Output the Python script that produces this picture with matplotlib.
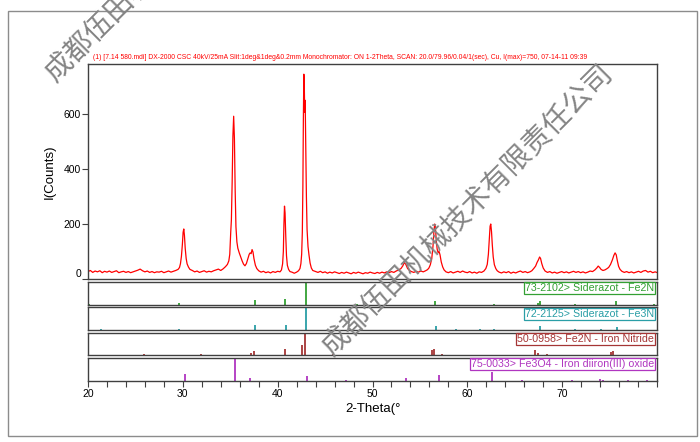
import matplotlib
matplotlib.use("Agg")
import matplotlib.pyplot as plt
from matplotlib.ticker import MultipleLocator, FixedLocator
from matplotlib.patches import Rectangle
import matplotlib.transforms as mtransforms

plt.rcParams["font.family"] = ["Liberation Sans", "DejaVu Sans"]

two_theta = [
    20.0, 20.25, 20.5, 20.75, 21.0, 21.25, 21.5, 21.75, 22.0, 22.25, 22.5, 22.75, 23.0,
    23.25, 23.5, 23.75, 24.0, 24.25, 24.5, 24.75, 25.0, 25.25, 25.5, 25.75, 26.0, 26.25,
    26.5, 26.75, 27.0, 27.25, 27.5, 27.75, 28.0, 28.25, 28.5, 28.75, 29.0, 29.25, 29.5,
    29.65, 29.75, 29.85, 29.95, 30.03, 30.1, 30.17, 30.25, 30.35, 30.45, 30.6, 30.75,
    31.0, 31.25, 31.5, 31.75, 32.0, 32.25, 32.5, 32.75, 33.0, 33.25, 33.5, 33.75, 34.0, 34.25,
    34.5, 34.7, 34.85, 34.95, 35.05, 35.12, 35.2, 35.28, 35.36, 35.44, 35.52, 35.6, 35.7,
    35.8, 35.95, 36.1, 36.25, 36.4, 36.55, 36.7, 36.85, 37.0, 37.1, 37.2, 37.3, 37.4, 37.5,
    37.65, 37.8, 38.0,
    38.25, 38.5, 38.75, 39.0, 39.25, 39.5, 39.75, 40.0, 40.25,
    40.4, 40.52, 40.6, 40.66, 40.72, 40.78, 40.85, 40.93, 41.02, 41.15, 41.3,
    41.5, 41.75, 42.0, 42.2,
    42.35, 42.45, 42.53, 42.6, 42.66, 42.71, 42.76, 42.81, 42.85, 42.9, 42.96, 43.03, 43.1,
    43.2, 43.3, 43.42, 43.55, 43.7,
    44.0, 44.25, 44.5, 44.75, 45.0, 45.25, 45.5, 45.75, 46.0, 46.25, 46.5, 46.75, 47.0,
    47.25, 47.5, 47.75, 48.0, 48.25, 48.5, 48.75, 49.0, 49.25, 49.5, 49.75, 50.0, 50.25,
    50.5, 50.75, 51.0, 51.25, 51.5, 51.75, 52.0, 52.25, 52.5, 52.75,
    53.0, 53.2, 53.35, 53.5, 53.7, 53.9,
    54.1, 54.35, 54.6, 54.85, 55.1, 55.35, 55.6, 55.8,
    55.95, 56.1, 56.25, 56.38, 56.48, 56.56, 56.64, 56.72, 56.82, 56.92, 57.02, 57.12,
    57.25, 57.4, 57.55,
    57.75, 58.0, 58.25, 58.5, 58.75, 59.0, 59.25, 59.5, 59.75, 60.0, 60.25, 60.5, 60.75,
    61.0, 61.25, 61.5, 61.75,
    61.95, 62.1, 62.22, 62.32, 62.4, 62.47, 62.55, 62.63, 62.73, 62.85, 63.0, 63.15,
    63.35, 63.6, 63.85, 64.1, 64.35, 64.6, 64.85, 65.1, 65.35, 65.6, 65.85, 66.1, 66.35, 66.6,
    66.8, 67.0, 67.2, 67.35, 67.5, 67.62, 67.72, 67.85, 68.0, 68.2,
    68.45, 68.7, 68.95, 69.2, 69.45, 69.7, 69.95, 70.2, 70.45, 70.7, 70.95, 71.2, 71.45,
    71.7, 71.95, 72.2, 72.45, 72.7, 72.95, 73.2, 73.45,
    73.65, 73.8, 73.95, 74.1, 74.3, 74.5, 74.7,
    74.9, 75.1, 75.3, 75.45, 75.58, 75.7, 75.82, 75.95, 76.1, 76.3,
    76.55, 76.8, 77.05, 77.3, 77.55, 77.8, 78.05, 78.3, 78.55, 78.8, 79.05, 79.3, 79.55,
    79.8, 79.96,
]
counts = [
    27, 31, 24, 29, 26, 30, 23, 28, 25, 29, 24, 27, 30,
    23, 26, 28, 24, 27, 23, 26, 29, 32, 36, 30, 26, 29,
    24, 27, 23, 26, 25, 28, 23, 26, 29, 25, 28, 31, 35,
    42, 56, 82, 125, 170, 182, 158, 112, 75, 55, 43, 35,
    31, 26, 29, 24, 27, 30, 25, 28, 26, 30, 33, 36, 31, 37,
    45, 53, 66, 90, 170, 215, 350, 520, 592, 510, 320, 190, 135,
    112, 95, 80, 66, 54, 48, 56, 73, 90, 95, 92, 107, 98, 74,
    50, 38, 30,
    25, 28, 23, 26, 22, 27, 24, 28, 26,
    33, 55, 100, 200, 265, 240, 160, 85, 50, 35, 27,
    25, 21, 25, 30,
    38, 56, 90, 170, 340, 580, 745, 700, 607, 650, 480, 300, 180,
    118, 88, 58, 40, 31,
    27, 24, 28, 23, 26, 21, 25, 22, 26, 23, 20, 24, 21,
    25, 22, 19, 24, 21, 25, 22, 19, 23, 21, 25, 22, 20,
    24, 21, 25, 22, 26, 23, 27, 24, 29, 33,
    38, 48, 60, 54, 38, 31,
    27, 24, 28, 25, 29, 26, 30, 34,
    40, 52, 75, 120, 175, 200, 185, 142, 108, 96, 100, 88,
    62, 44, 33,
    26, 23, 27, 22, 25, 28, 24, 29, 25, 23, 27, 22, 25,
    21, 26, 24, 29,
    38, 53, 90, 150, 192, 200, 172, 125, 80, 52, 38, 30,
    25, 22, 26, 23, 27, 21, 25, 22, 26, 29, 24, 27, 23, 26,
    30, 38, 47, 60, 70, 80, 75, 56, 40, 29,
    24, 27, 22, 25, 21, 24, 27, 23, 26, 22, 25, 28, 24,
    27, 23, 26, 22, 25, 29, 27, 33,
    40, 47, 42, 35, 31, 33, 37,
    42, 53, 70, 86, 95, 88, 66, 46, 35, 28,
    24, 27, 23, 26, 22, 25, 28, 24, 29, 31, 25, 28, 23,
    26, 24,
]

# ---- reference cards (stick positions, relative intensity %) ----
fe2n_a_pos = [20.1, 29.6, 37.6, 40.8, 42.95, 48.4, 56.6, 62.8, 67.4, 67.7, 71.4, 75.7, 79.7]
fe2n_a_int = [3, 8, 22, 25, 100, 5, 18, 4, 6, 18, 4, 18, 5]
fe3n_pos = [21.4, 29.6, 37.6, 40.9, 42.95, 56.7, 58.8, 61.3, 62.8, 67.65, 71.4, 74.1, 75.75]
fe3n_int = [4, 5, 25, 25, 100, 18, 4, 4, 4, 18, 4, 4, 16]
fe2n_b_pos = [25.9, 31.9, 37.2, 37.5, 40.8, 42.55, 42.85, 45.8, 53.85, 56.3, 56.45, 57.3,
              63.7, 65.3, 67.15, 67.45, 68.4, 71.4, 75.2, 75.4, 77.1, 78.5, 79.5]
fe2n_b_int = [5, 5, 12, 18, 30, 45, 100, 6, 4, 25, 30, 5,
              4, 3, 25, 12, 5, 3, 15, 20, 3, 3, 4]
fe3o4_pos = [30.2, 35.5, 37.1, 43.1, 47.2, 53.5, 57.0, 62.6, 65.75, 71.0, 74.0, 74.3, 76.95, 78.9]
fe3o4_int = [30, 100, 12, 22, 5, 10, 28, 38, 3, 4, 8, 4, 4, 3]

cards = [
    ("73-2102> Siderazot - Fe2N", fe2n_a_pos, fe2n_a_int, "#33a033"),
    ("72-2125> Siderazot - Fe3N", fe3n_pos, fe3n_int, "#2a9ea6"),
    ("50-0958> Fe2N - Iron Nitride", fe2n_b_pos, fe2n_b_int, "#a53535"),
    ("75-0033> Fe3O4 - Iron diiron(III) oxide", fe3o4_pos, fe3o4_int, "#b035c0"),
]

header = ("(1) [7.14 580.mdi] DX-2000 CSC 40kV/25mA Slit:1deg&1deg&0.2mm Monochromator: "
          "ON 1-2Theta, SCAN: 20.0/79.96/0.04/1(sec), Cu, I(max)=750, 07-14-11 09:39")
watermark = "成都伍田机械技术有限责任公司"

W, H = 700, 442
SPINE = "#404040"


def fx(px):
    return px / W


def fy(py):
    return 1 - py / H


fig = plt.figure(figsize=(7, 4.42), dpi=100)
fig.patch.set_facecolor("white")

# outer frame
fig.patches.append(Rectangle((fx(8), fy(436)), fx(689), (436 - 11) / H, transform=fig.transFigure,
                             fill=False, edgecolor="#8c8c8c", lw=1.0))

left, right = 88, 657
ax = fig.add_axes([fx(left), fy(279), fx(right - left), (279 - 64) / H])
ax.plot(two_theta, counts, color="#ff0000", lw=0.9)
ax.set_xlim(20, 80)
ax.set_ylim(0, 782)
ax.set_xticks([])
ax.yaxis.set_major_locator(FixedLocator([0, 200, 400, 600]))
ax.tick_params(axis="y", direction="out", length=4, width=0.8, color=SPINE, labelsize=7.5, pad=1)
ax.set_ylabel("I(Counts)", fontsize=9.5, labelpad=6)
for s in ax.spines.values():
    s.set_color(SPINE)
    s.set_linewidth(1.0)
lbl0 = ax.get_yticklabels()[0]
lbl0.set_transform(lbl0.get_transform() + mtransforms.ScaledTranslation(0, 6 / 100, fig.dpi_scale_trans))
ax.text(0.008, 1.012, header, transform=ax.transAxes, fontsize=4.85, color="#ff0000",
        ha="left", va="bottom")

tops = [282, 307.3, 332.6, 357.9]
ph = 22.8
for i, (name, pos, inten, col) in enumerate(cards):
    pax = fig.add_axes([fx(left), fy(tops[i] + ph), fx(right - left), ph / H])
    pax.vlines(pos, 0, inten, color=col, lw=1.3)
    pax.set_xlim(20, 80)
    pax.set_ylim(0, 103)
    pax.set_yticks([])
    for s in pax.spines.values():
        s.set_color(SPINE)
        s.set_linewidth(1.0)
    pax.text(0.995, 0.72, name, transform=pax.transAxes, fontsize=7.7, color=col,
             ha="right", va="center",
             bbox=dict(boxstyle="square,pad=0.1", facecolor="white", edgecolor=col, lw=0.9))
    if i < 3:
        pax.set_xticks([])
    else:
        pax.xaxis.set_minor_locator(MultipleLocator(2))
        pax.set_xticks([20, 30, 40, 50, 60, 70])
        pax.tick_params(axis="x", which="both", direction="out", length=4, width=0.8,
                        color=SPINE, labelsize=7.5, pad=2)
        pax.set_xlabel("2-Theta(°", fontsize=9.5, labelpad=3)

# watermarks
wm = dict(fontsize=20.5, color="#858585", rotation=45, rotation_mode="anchor",
          ha="left", va="baseline", family=["Noto Sans CJK SC", "DejaVu Sans"],
          fontweight="light", transform=fig.transFigure, zorder=10)
fig.text(fx(55), fy(82), watermark, **wm)
fig.text(fx(332), fy(356), watermark, **wm)

fig.savefig("out.png", dpi=100)
